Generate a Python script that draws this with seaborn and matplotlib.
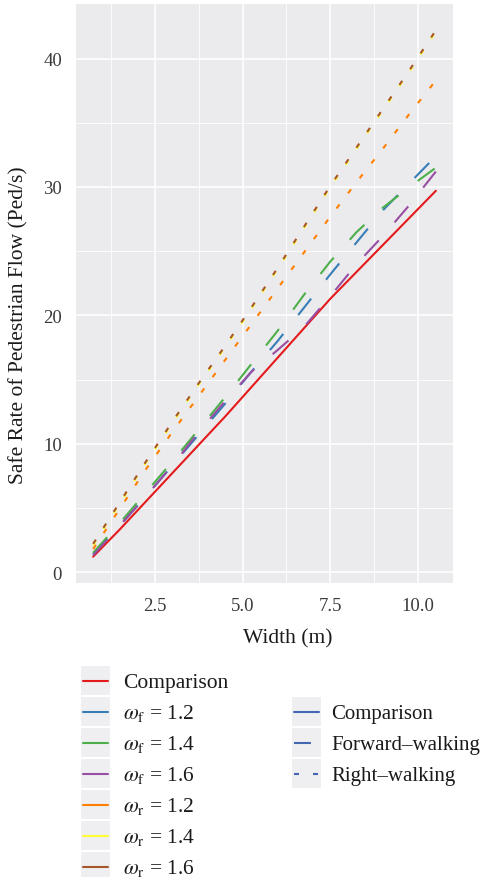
import numpy as np
import pandas as pd
import matplotlib
matplotlib.use("Agg")
import matplotlib.pyplot as plt
import seaborn as sns
from matplotlib.lines import Line2D
from matplotlib.patches import Rectangle
from matplotlib.legend_handler import HandlerLine2D
from matplotlib.ticker import MultipleLocator, FormatStrFormatter

# ---------------- data ----------------
width = [0.75, 1.5, 2.25, 3.0, 3.75, 4.5, 5.25, 6.0, 6.75, 7.5, 8.25, 9.0, 9.75, 10.5]

comparison = [1.2, 3.3, 5.5, 7.7, 9.9, 12.1, 14.4, 16.7, 19.0, 21.3, 23.4, 25.5, 27.6, 29.7]
wf_12 = [1.4, 3.6, 5.9, 8.3, 10.7, 13.1, 15.6, 18.0, 20.6, 23.2, 25.7, 28.2, 30.3, 32.4]
wf_14 = [1.5, 3.8, 6.2, 8.6, 11.1, 13.6, 16.2, 18.8, 21.6, 24.2, 26.5, 28.4, 30.0, 31.5]
wf_16 = [1.3, 3.6, 5.9, 8.3, 10.9, 13.3, 15.6, 17.3, 19.1, 21.5, 24.0, 26.2, 28.6, 31.2]
wr_12 = [1.8, 4.9, 8.0, 10.9, 13.7, 16.5, 19.3, 22.1, 24.9, 27.7, 30.4, 33.0, 35.7, 38.3]
wr_14 = [2.1, 5.3, 8.5, 11.6, 14.6, 17.5, 20.5, 23.6, 26.8, 30.0, 33.0, 36.0, 39.0, 42.1]
wr_16 = [2.2, 5.4, 8.6, 11.7, 14.7, 17.6, 20.6, 23.7, 26.9, 30.1, 33.1, 36.1, 39.1, 42.2]

series_labels = [
    "Comparison",
    r"$\omega_{\mathrm{f}}$ = 1.2",
    r"$\omega_{\mathrm{f}}$ = 1.4",
    r"$\omega_{\mathrm{f}}$ = 1.6",
    r"$\omega_{\mathrm{r}}$ = 1.2",
    r"$\omega_{\mathrm{r}}$ = 1.4",
    r"$\omega_{\mathrm{r}}$ = 1.6",
]
series_values = [comparison, wf_12, wf_14, wf_16, wr_12, wr_14, wr_16]
type_labels = ["Comparison", "Forward\u2013walking", "Right\u2013walking"]
series_types = [type_labels[0], type_labels[1], type_labels[1], type_labels[1],
                type_labels[2], type_labels[2], type_labels[2]]
series_colors = ["#E41A1C", "#377EB8", "#4DAF4A", "#984EA3", "#FF7F00", "#FFFF33", "#A65628"]

x_label = "Width (m)"
y_label = "Safe Rate of Pedestrian Flow (Ped/s)"

# ---------------- styling ----------------
PANEL_BG = "#EBEBED"
KEY_BG = "#EFEFF1"
TYPE_KEY_COLOR = "#4466B0"
LW = 1.5
DASH_FWD = (15.1, 17.3)
DASH_RIGHT = (3.6, 10.1)

sns.set_theme(style="darkgrid")
plt.rcParams["font.family"] = ["Liberation Serif", "DejaVu Serif"]
plt.rcParams["mathtext.fontset"] = "stix"
plt.rcParams["lines.scale_dashes"] = False

rows = []
for lab, typ, vals in zip(series_labels, series_types, series_values):
    for x, y in zip(width, vals):
        rows.append({"Width": x, "Rate": y, "Series": lab, "Type": typ})
df = pd.DataFrame(rows)

W, H = 483, 878
fig = plt.figure(figsize=(W / 100, H / 100), dpi=100)
fig.patch.set_facecolor("white")
ax = fig.add_axes([76 / W, 1 - 584 / H, (453 - 76) / W, (584 - 5) / H])
ax.set_facecolor(PANEL_BG)

sns.lineplot(
    data=df, x="Width", y="Rate", hue="Series", style="Type",
    hue_order=series_labels, style_order=type_labels,
    palette=dict(zip(series_labels, series_colors)),
    dashes={type_labels[0]: "", type_labels[1]: DASH_FWD, type_labels[2]: DASH_RIGHT},
    linewidth=LW, estimator=None, sort=False, legend=False, ax=ax,
)

# limits with 5% expansion
xmin, xmax = min(width), max(width)
all_y = np.concatenate([np.asarray(v) for v in series_values])
ymin, ymax = all_y.min(), all_y.max()
ax.set_xlim(xmin - 0.05 * (xmax - xmin), xmax + 0.05 * (xmax - xmin))
ax.set_ylim(ymin - 0.05 * (ymax - ymin), ymax + 0.05 * (ymax - ymin))

ax.xaxis.set_major_locator(MultipleLocator(2.5))
ax.xaxis.set_minor_locator(MultipleLocator(1.25))
ax.yaxis.set_major_locator(MultipleLocator(10))
ax.yaxis.set_minor_locator(MultipleLocator(5))
ax.xaxis.set_major_formatter(FormatStrFormatter("%.1f"))
ax.yaxis.set_major_formatter(FormatStrFormatter("%d"))

ax.grid(which="major", color="white", linewidth=1.1)
ax.grid(which="minor", color="white", linewidth=0.6)
ax.set_axisbelow(True)
for s in ax.spines.values():
    s.set_visible(False)
ax.tick_params(which="major", length=3, width=0.8, color="#333333",
               labelsize=13.5, labelcolor="#3A3A3A", pad=7)
ax.tick_params(which="minor", length=0)
ax.set_xlabel("")
ax.set_ylabel("")

fig.text(18.5 / W, 1 - 325 / H, y_label, rotation=90, ha="center", va="center",
         fontsize=15.5, color="#1A1A1A")
fig.text(288 / W, 1 - 639 / H, x_label, ha="center", va="center",
         fontsize=15.5, color="#1A1A1A")


# ---------------- legends ----------------
class KeyHandler(HandlerLine2D):
    def create_artists(self, legend, orig_handle, xdescent, ydescent,
                       width, height, fontsize, trans):
        arts = super().create_artists(legend, orig_handle, xdescent, ydescent,
                                      width, height, fontsize, trans)
        ext = 1.44
        yc = -ydescent + height / 2
        for a in arts:
            a.set_ydata(np.full_like(np.asarray(a.get_xdata(), dtype=float), yc))
        rect = Rectangle((-xdescent - ext, -ydescent), width + 2 * ext, height,
                         facecolor=KEY_BG, edgecolor="none", transform=trans)
        return [rect] + list(arts)


def legend_kw(fs, textpad_px):
    fs_px = fs * 100 / 72
    hh = (29 / fs_px - 0.245) / 0.65
    return dict(
        frameon=False, borderpad=0, borderaxespad=0,
        handlelength=25 / fs_px, handleheight=hh,
        labelspacing=2 / fs_px, handletextpad=textpad_px / fs_px,
        fontsize=fs, loc="upper left", bbox_transform=fig.transFigure,
        handler_map={Line2D: KeyHandler()},
    )


color_handles = [Line2D([], [], color=c, lw=LW) for c in series_colors]
leg1 = fig.legend(color_handles, series_labels, bbox_to_anchor=(83 / W, 1 - 667 / H),
                  **legend_kw(15.5, 15))
for t in leg1.get_texts():
    t.set_color("#1A1A1A")

type_handles = [
    Line2D([], [], color=TYPE_KEY_COLOR, lw=LW),
    Line2D([], [], color=TYPE_KEY_COLOR, lw=LW, dashes=(12.2, 20)),
    Line2D([], [], color=TYPE_KEY_COLOR, lw=LW, dashes=DASH_RIGHT),
]
leg2 = fig.legend(type_handles, type_labels, bbox_to_anchor=(294 / W, 1 - 698 / H),
                  **legend_kw(15.0, 12))
for t in leg2.get_texts():
    t.set_color("#1A1A1A")

fig.savefig("out.png", dpi=100)
